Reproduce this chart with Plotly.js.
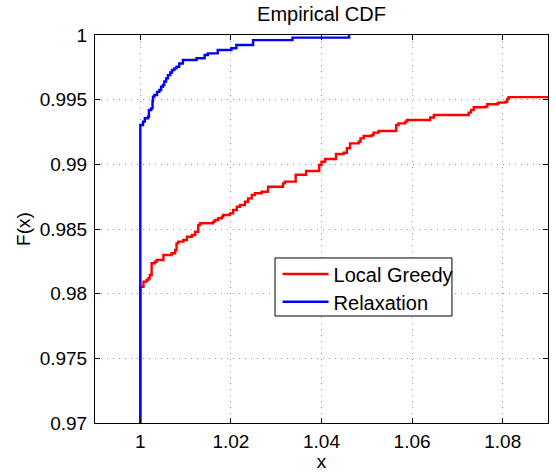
<!DOCTYPE html>
<html>
<head>
<meta charset="utf-8">
<script src="https://cdn.plot.ly/plotly-3.0.1.min.js"></script>
<style>html,body{margin:0;padding:0;background:#fff;}#chart{width:556px;height:472px;}</style>
</head>
<body>
<div id="chart"></div>
<script>
// Series names
const seriesNames = ["Local Greedy", "Relaxation"];

// Local Greedy ECDF (step points: x where jump happens, level after jump)
const greedyX = [1.0000, 1.0000, 1.0007, 1.0014, 1.0018, 1.0021, 1.0025, 1.0032, 1.0036, 1.0051, 1.0069, 1.0077, 1.0080, 1.0084,
  1.0095, 1.0103, 1.0114, 1.0121, 1.0128, 1.0132, 1.0161, 1.0165, 1.0172, 1.0180, 1.0183, 1.0198, 1.0205, 1.0213,
  1.0220, 1.0231, 1.0238, 1.0246, 1.0253, 1.0268, 1.0282, 1.0315, 1.0319, 1.0343, 1.0366, 1.0395, 1.0400, 1.0408,
  1.0432, 1.0449, 1.0456, 1.0463, 1.0482, 1.0486, 1.0493, 1.0511, 1.0515, 1.0526, 1.0565, 1.0570, 1.0585, 1.0589,
  1.0640, 1.0648, 1.0725, 1.0730, 1.0736, 1.0762, 1.0766, 1.0788, 1.0791, 1.0806, 1.0810, 1.0813, 1.1000];
const greedyY = [0.9600, 0.98054, 0.98093, 0.98106, 0.98119, 0.98144, 0.98235, 0.98247, 0.98260, 0.98299, 0.98312, 0.98338, 0.98389, 0.98402,
  0.98415, 0.98440, 0.98454, 0.98479, 0.98531, 0.98544, 0.98557, 0.98570, 0.98583, 0.98595, 0.98608, 0.98621, 0.98647, 0.98672,
  0.98686, 0.98711, 0.98737, 0.98763, 0.98776, 0.98788, 0.98827, 0.98853, 0.98866, 0.98920, 0.98948, 0.98995, 0.99020, 0.99041,
  0.99080, 0.99090, 0.99124, 0.99162, 0.99175, 0.99201, 0.99219, 0.99227, 0.99245, 0.99258, 0.99304, 0.99317, 0.99330, 0.99343,
  0.99362, 0.99381, 0.99400, 0.99420, 0.99441, 0.99446, 0.99464, 0.99470, 0.99477, 0.99484, 0.99505, 0.99520, 0.99520];

// Relaxation ECDF
const relaxX = [1.0000, 1.0000, 1.0006, 1.0010, 1.0017, 1.0019, 1.0024, 1.0027, 1.0028, 1.0031, 1.0037, 1.0042, 1.0046, 1.0050,
  1.0053, 1.0057, 1.0061, 1.0066, 1.0070, 1.0075, 1.0080, 1.0086, 1.0094, 1.0124, 1.0142, 1.0149, 1.0171, 1.0201,
  1.0212, 1.0249, 1.0336, 1.0461, 1.0461];
const relaxY = [0.9600, 0.99304, 0.99330, 0.99356, 0.99368, 0.99420, 0.99433, 0.99490, 0.99523, 0.99536, 0.99560, 0.99575, 0.99600, 0.99613,
  0.99640, 0.99665, 0.99690, 0.99710, 0.99729, 0.99742, 0.99755, 0.99780, 0.99807, 0.99820, 0.99845, 0.99858, 0.99884, 0.99897,
  0.99923, 0.99960, 0.99980, 0.99980, 1.00000];

const xTicks = [1, 1.02, 1.04, 1.06, 1.08];
const yTicks = [0.97, 0.975, 0.98, 0.985, 0.99, 0.995, 1];

const FONT = "Liberation Sans, Arial, sans-serif";

const traces = [
  {x: greedyX, y: greedyY, name: seriesNames[0], type: "scatter", mode: "lines", legend: "legend",
   line: {shape: "hv", color: "#ff0000", width: 2.4}},
  {x: relaxX, y: relaxY, name: seriesNames[1], type: "scatter", mode: "lines", legend: "legend2",
   line: {shape: "hv", color: "#0000ff", width: 2.4}}
];

const axisCommon = {
  showline: true, linecolor: "#000", linewidth: 1, mirror: "ticks",
  ticks: "inside", ticklen: 5, tickcolor: "#000", tickwidth: 1,
  showgrid: true, gridcolor: "#999", griddash: "1px,5px", gridwidth: 1,
  zeroline: false, tickfont: {family: FONT, size: 19, color: "#000"}
};

const legendCommon = {
  xanchor: "left", yanchor: "middle", bgcolor: "rgba(0,0,0,0)", borderwidth: 0,
  font: {family: FONT, size: 20, color: "#000"}, itemwidth: 46
};

const layout = {
  width: 556, height: 472,
  margin: {l: 95, r: 8, t: 35, b: 49},
  paper_bgcolor: "#fff", plot_bgcolor: "#fff",
  font: {family: FONT, size: 19, color: "#000"},
  title: {text: "Empirical CDF", font: {family: FONT, size: 20, color: "#000"},
          x: 0.5 * (95 + 548) / 556, xanchor: "center", y: 0.97, yanchor: "middle"},
  xaxis: Object.assign({}, axisCommon, {
    range: [0.99, 1.09], tickvals: xTicks, ticktext: xTicks.map(String), ticklabelstandoff: 1,
    title: {text: "x", font: {family: FONT, size: 19, color: "#000"}, standoff: 8}
  }),
  yaxis: Object.assign({}, axisCommon, {
    range: [0.97, 1], tickvals: yTicks, ticktext: yTicks.map(String), ticklabelstandoff: 3,
    title: {text: "F(x)", font: {family: FONT, size: 19, color: "#000"}, standoff: 4}
  }),
  showlegend: true,
  shapes: [{type: "rect", xref: "paper", yref: "paper", x0: 0.3974, x1: 0.788, y0: 0.2758, y1: 0.4253,
            line: {color: "#000", width: 1}, fillcolor: "#fff", layer: "above"}],
  legend: Object.assign({}, legendCommon, {x: 0.403, y: 0.384}),
  legend2: Object.assign({}, legendCommon, {x: 0.403, y: 0.3126})
};

Plotly.newPlot("chart", traces, layout, {displayModeBar: false, staticPlot: true});
</script>
</body>
</html>
